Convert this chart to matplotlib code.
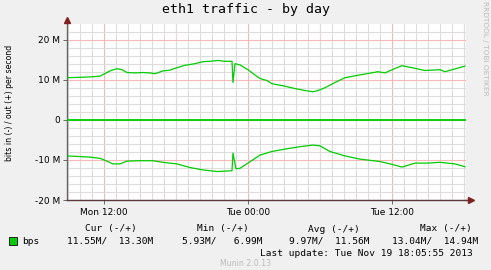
"""
eth1 traffic - by day (munin style graph)
"""
import matplotlib
matplotlib.use('Agg')
import matplotlib.pyplot as plt
from matplotlib.patches import Rectangle
from matplotlib.ticker import MultipleLocator, FixedLocator

W, H = 491, 270

# hours since Mon 00:00
out_hours = [8.92, 9.92, 10.83, 11.67, 12.0, 12.5, 13.08, 13.5, 13.92, 14.58,
             15.25, 15.83, 16.25, 16.92, 17.5, 18.08, 18.75, 19.58, 20.25, 20.83,
             21.5, 22.08, 22.67, 22.75, 22.92, 23.33, 24.0, 24.58, 25.0, 25.58,
             26.0, 26.92, 27.92, 28.75, 29.42, 29.83, 30.42, 31.25, 32.08, 33.33,
             34.83, 35.42, 36.25, 36.83, 37.67, 38.75, 40.0, 40.42, 41.25, 42.08]
# out traffic, Mbit/s
out_mbps = [10.5, 10.6, 10.7, 10.9, 11.4, 12.2, 12.75, 12.5, 11.8, 11.7,
            11.8, 11.7, 11.5, 12.2, 12.4, 13.0, 13.6, 14.0, 14.5, 14.6,
            14.8, 14.6, 14.6, 9.3, 14.0, 13.7, 12.5, 11.2, 10.3, 9.8,
            9.0, 8.5, 7.8, 7.3, 7.0, 7.3, 8.0, 9.3, 10.5, 11.2,
            12.0, 11.7, 12.8, 13.5, 13.0, 12.3, 12.5, 12.0, 12.7, 13.4]

in_hours = [8.92, 10.83, 11.67, 12.0, 12.75, 13.33, 13.92, 15.0, 16.08, 16.92,
            18.08, 19.17, 20.25, 21.42, 22.67, 22.75, 23.0, 23.33, 24.0, 25.0,
            26.0, 27.08, 28.33, 29.42, 30.0, 30.83, 32.08, 33.33, 35.0, 36.0,
            36.83, 37.92, 39.0, 40.0, 41.25, 42.08]
# in traffic (drawn negative), Mbit/s
in_mbps = [-9.0, -9.3, -9.6, -10.0, -11.0, -11.0, -10.3, -10.2, -10.2, -10.6,
           -11.0, -11.9, -12.5, -12.9, -12.7, -8.3, -12.2, -12.1, -10.8, -8.8,
           -7.9, -7.3, -6.7, -6.3, -6.5, -7.9, -9.0, -9.8, -10.4, -11.1,
           -11.8, -10.8, -10.8, -10.6, -11.0, -11.7]

tick_hours = [12, 24, 36]
tick_labels = ['Mon 12:00', 'Tue 00:00', 'Tue 12:00']
ytick_vals = [-20, -10, 0, 10, 20]
ytick_labels = ['-20 M', '-10 M', '0', '10 M', '20 M']

legend_headers = ['Cur (-/+)', 'Min (-/+)', 'Avg (-/+)', 'Max (-/+)']
legend_values = ['11.55M/  13.30M', '5.93M/   6.99M', '9.97M/  11.56M', '13.04M/  14.94M']

GREEN = '#00CC00'
BACK = '#F0F0F0'


def fpos(x, y):
    return x / W, 1 - y / H


def main():
    fig = plt.figure(figsize=(W / 100, H / 100), dpi=100, facecolor=BACK)
    left, right, top, bottom = 67, 466, 24, 200
    ax = fig.add_axes([left / W, 1 - bottom / H, (right - left) / W, (bottom - top) / H])
    ax.set_facecolor('white')

    xmin, xmax = 8.92, 42.17
    ax.set_xlim(xmin, xmax)
    ax.set_ylim(-20, 23.9)

    # grid
    ax.xaxis.set_minor_locator(MultipleLocator(1))
    ax.yaxis.set_minor_locator(MultipleLocator(2))
    ax.grid(which='minor', color='#DDDDDD', lw=0.8)
    ax.grid(which='major', color='#F6B8B8', lw=0.8)
    ax.set_axisbelow(True)

    ax.set_xticks(tick_hours)
    ax.set_xticklabels(tick_labels)
    ax.set_yticks(ytick_vals)
    ax.set_yticklabels(ytick_labels)
    # 6h red lines between the labelled ticks
    for h in [18, 30, 42]:
        ax.axvline(h, color='#F6B8B8', lw=0.8, zorder=0.5)
    ax.tick_params(axis='both', which='major', labelsize=6.5, length=3,
                   width=0.6, color='#555555', pad=2)
    ax.tick_params(axis='x', which='major', pad=3)
    ax.tick_params(which='minor', length=0)

    for s in ['top', 'right']:
        ax.spines[s].set_visible(False)
    ax.spines['left'].set_color('#666666')
    ax.spines['bottom'].set_color('#5A3A3A')
    ax.spines['left'].set_linewidth(1)
    ax.spines['bottom'].set_linewidth(1)

    # data
    ax.axhline(0, color=GREEN, lw=1.3, zorder=3)
    ax.plot(out_hours, out_mbps, color=GREEN, lw=0.9, zorder=4)
    ax.plot(in_hours, in_mbps, color=GREEN, lw=0.9, zorder=4)

    # arrows
    ax.plot([xmin], [24.9], marker='^', color='#7F1F1F', ms=4,
            clip_on=False, zorder=5)
    ax.plot([42.6], [-20], marker='>', color='#7F1F1F', ms=4,
            clip_on=False, zorder=5)
    ax.plot([xmax, 42.6], [-20, -20], color='#5A3A3A', lw=1, clip_on=False)

    # texts
    fig.text(*fpos(245.5, 10), 'eth1 traffic - by day', family='DejaVu Sans Mono',
             fontsize=9.5, ha='center', va='center')
    fig.text(*fpos(10, 103), 'bits in (-) / out (+) per second', fontsize=5.6,
             rotation=90, ha='center', va='center')
    fig.text(*fpos(485, 48), 'RRDTOOL / TOBI OETIKER', fontsize=5.3,
             color='#BBBBBB', rotation=270, ha='center', va='center')

    mono = dict(family='DejaVu Sans Mono', fontsize=6.8, va='center')
    header_x = [85, 197, 308, 420]
    value_x = [67, 182, 289, 392]
    for hx, htxt in zip(header_x, legend_headers):
        fig.text(*fpos(hx, 229), htxt, ha='left', **mono)
    fig.text(*fpos(22, 241), 'bps', ha='left', **mono)
    for vx, vtxt in zip(value_x, legend_values):
        fig.text(*fpos(vx, 241), vtxt, ha='left', **mono)
    fig.text(*fpos(260, 253), 'Last update: Tue Nov 19 18:05:55 2013',
             ha='left', **mono)
    fig.patches.append(Rectangle(fpos(9, 245), 8 / W, 8 / H, transform=fig.transFigure,
                                 facecolor=GREEN, edgecolor='#222222', lw=0.7))
    fig.text(*fpos(246, 264), 'Munin 2.0.13', fontsize=5.6, color='#BBBBBB',
             ha='center', va='center')

    fig.savefig('out.png', dpi=100, facecolor=BACK)


if __name__ == '__main__':
    main()
